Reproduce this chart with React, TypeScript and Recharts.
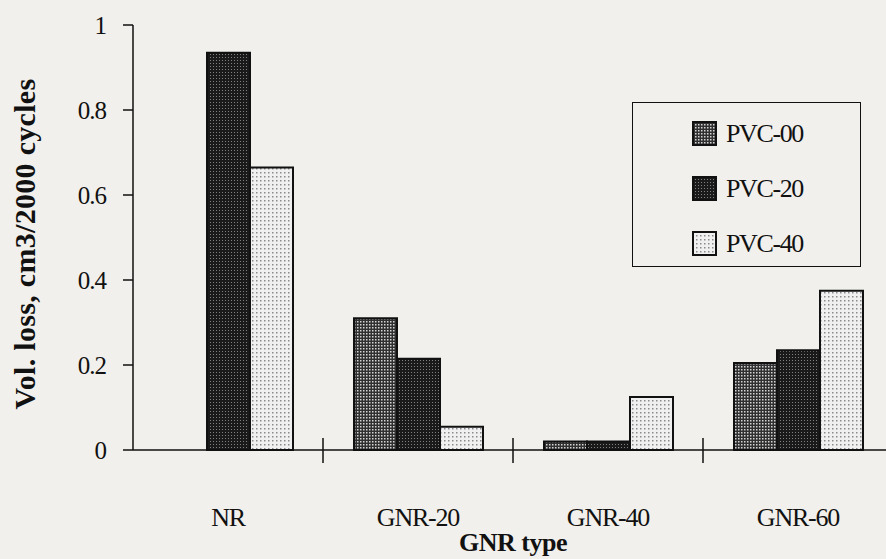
import { BarChart, Bar, XAxis, YAxis, Legend } from "recharts";

const categories = ["NR", "GNR-20", "GNR-40", "GNR-60"];
const pvc00 = [null, 0.31, 0.02, 0.205];
const pvc20 = [0.935, 0.215, 0.02, 0.235];
const pvc40 = [0.665, 0.055, 0.125, 0.375];
const seriesNames = ["PVC-00", "PVC-20", "PVC-40"];
const yTicks = [0, 0.2, 0.4, 0.6, 0.8, 1];

const data = categories.map((name, i) => ({
  name,
  "PVC-00": pvc00[i],
  "PVC-20": pvc20[i],
  "PVC-40": pvc40[i],
}));

const FONT = "'Liberation Serif', 'Times New Roman', serif";
const BG = "#f1f0ec";
const INK = "#111";

const W = 900;
const H = 559;
const MARGIN = { top: 25, right: 7, left: 60, bottom: 49 };
const Y_AXIS_W = 73;
const X_AXIS_H = 60;
const AXIS_Y = H - MARGIN.bottom - X_AXIS_H;
const BAND = (W - MARGIN.left - MARGIN.right - Y_AXIS_W) / categories.length;

const FILLS: Record<string, string> = {
  "PVC-00": "url(#pvc00)",
  "PVC-20": "url(#pvc20)",
  "PVC-40": "url(#pvc40)",
};

const YTick = ({ x, y, payload }: any) => (
  <text
    x={x - 15}
    y={y}
    dy="0.35em"
    textAnchor="end"
    fontFamily={FONT}
    fontSize={25}
    letterSpacing={-1}
    fill={INK}
  >
    {payload.value}
  </text>
);

// category labels, plus the short divider ticks between groups
const XTick = ({ x, payload, index }: any) => (
  <g>
    {index > 0 && (
      <line
        x1={x - BAND / 2}
        x2={x - BAND / 2}
        y1={AXIS_Y - 12}
        y2={AXIS_Y + 13}
        stroke={INK}
        strokeWidth={1.5}
      />
    )}
    <text
      x={x}
      y={AXIS_Y + 76}
      textAnchor="middle"
      fontFamily={FONT}
      fontSize={26}
      letterSpacing={-1.2}
      fill={INK}
    >
      {payload.value}
    </text>
  </g>
);

const LegendBox = () => (
  <div
    style={{
      width: 229,
      height: 165,
      border: "1.5px solid #111",
      boxSizing: "border-box",
      paddingTop: 18,
    }}
  >
    {seriesNames.map((s) => (
      <div
        key={s}
        style={{
          display: "flex",
          alignItems: "center",
          height: 25,
          marginBottom: 30,
          paddingLeft: 59,
        }}
      >
        <svg width={25} height={25} style={{ display: "block" }}>
          <rect x={1} y={1} width={23} height={23} fill={FILLS[s]} stroke={INK} strokeWidth={2} />
        </svg>
        <span
          style={{
            marginLeft: 9,
            fontFamily: FONT,
            fontSize: 26,
            letterSpacing: -1.4,
            color: INK,
          }}
        >
          {s}
        </span>
      </div>
    ))}
  </div>
);

export default function App() {
  return (
    <div
      style={{
        position: "fixed",
        left: 0,
        top: 0,
        width: 886,
        height: 559,
        overflow: "hidden",
        background: BG,
      }}
    >
      <BarChart width={W} height={H} data={data} margin={MARGIN} barGap={0} barSize={43}>
        <defs>
          <pattern id="pvc00" width={3} height={3} patternUnits="userSpaceOnUse">
            <rect width={3} height={3} fill="#303030" />
            <rect width={1.5} height={1.5} fill="#d4d4d4" />
          </pattern>
          <pattern id="pvc20" width={3} height={3} patternUnits="userSpaceOnUse">
            <rect width={3} height={3} fill="#1a1a1a" />
            <rect width={1} height={1} fill="#808080" />
          </pattern>
          <pattern id="pvc40" width={4} height={4} patternUnits="userSpaceOnUse">
            <rect width={4} height={4} fill="#f0f0f0" />
            <rect width={1.5} height={1.5} fill="#8a8a8a" />
          </pattern>
        </defs>
        <XAxis
          dataKey="name"
          height={X_AXIS_H}
          tickLine={false}
          axisLine={{ stroke: INK, strokeWidth: 1.5 }}
          tick={<XTick />}
          interval={0}
        />
        <YAxis
          width={Y_AXIS_W}
          domain={[0, 1]}
          ticks={yTicks}
          tickSize={10}
          axisLine={{ stroke: INK, strokeWidth: 1.5 }}
          tickLine={{ stroke: INK, strokeWidth: 1.5 }}
          tick={<YTick />}
        />
        <Legend
          layout="vertical"
          align="center"
          verticalAlign="middle"
          content={<LegendBox />}
          wrapperStyle={{ left: 632, top: 102, width: 229, height: 165 }}
        />
        {seriesNames.map((s) => (
          <Bar
            key={s}
            dataKey={s}
            fill={FILLS[s]}
            stroke={INK}
            strokeWidth={2}
            isAnimationActive={false}
          />
        ))}
      </BarChart>
      <div
        style={{
          position: "absolute",
          left: -175,
          top: 229,
          width: 400,
          height: 30,
          lineHeight: "30px",
          textAlign: "center",
          transform: "rotate(-90deg)",
          fontFamily: FONT,
          fontWeight: "bold",
          fontSize: 30,
          letterSpacing: 0.3,
          color: INK,
          whiteSpace: "nowrap",
        }}
      >
        Vol. loss, cm3/2000 cycles
      </div>
      <div
        style={{
          position: "absolute",
          left: 413,
          top: 528,
          width: 200,
          lineHeight: "30px",
          textAlign: "center",
          fontFamily: FONT,
          fontWeight: "bold",
          fontSize: 26,
          letterSpacing: -0.5,
          color: INK,
        }}
      >
        GNR type
      </div>
    </div>
  );
}
